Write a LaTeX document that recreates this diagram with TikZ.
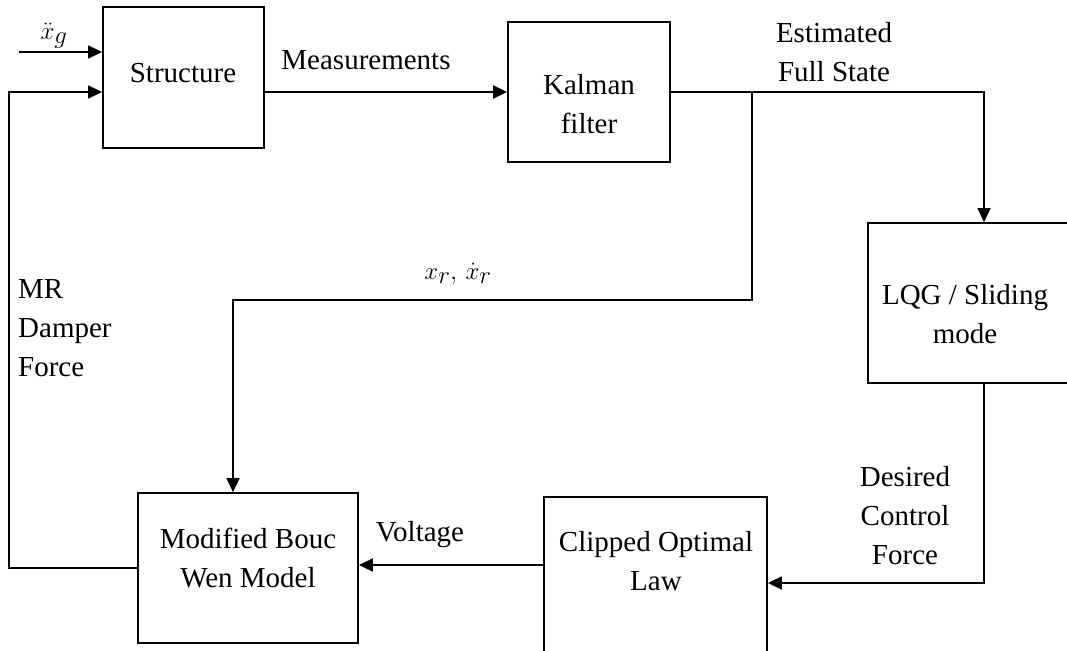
\documentclass[tikz,border=0pt]{standalone}
\usepackage{fontspec}
\setmainfont{Liberation Serif}
\usetikzlibrary{arrows.meta}
\tikzset{
  blk/.style={draw, line width=1.8pt, rectangle, inner sep=0pt},
  lbl/.style={inner sep=0pt, align=center, font=\fontsize{29}{39}\selectfont},
  mlbl/.style={inner sep=0pt, font=\fontsize{34}{40}\selectfont},
  wire/.style={line width=1.8pt},
  arr/.style={wire, -{Triangle[length=14pt,width=13pt]}}
}
\begin{document}
\begin{tikzpicture}[x=1pt, y=-1pt]
\useasboundingbox (0,0) rectangle (1067,650);
\clip (0,0) rectangle (1067,650);

% blocks
\node[blk, minimum width=161pt, minimum height=141pt] (struct) at (183.5,77.5) {};
\node[blk, minimum width=162pt, minimum height=140pt] (kal) at (589,92) {};
\node[blk, minimum width=232pt, minimum height=160pt] (lqg) at (984,303) {};
\node[blk, minimum width=223pt, minimum height=172pt] (clip) at (655.5,583) {};
\node[blk, minimum width=220pt, minimum height=150pt] (mbw) at (248,568) {};

% block texts
\node[lbl] (structtxt) at (183,73) {Structure};
\node[lbl] (kaltxt) at (589,104) {Kalman\\filter};
\node[lbl] (lqgtxt) at (965,314) {LQG / Sliding\\mode};
\node[lbl] (cliptxt) at (656,561) {Clipped Optimal\\Law};
\node[lbl] (mbwtxt) at (248,558) {Modified Bouc\\Wen Model};

% signal labels
\node[mlbl] (xglab) at (54,36) {$\ddot{x}_g$};
\node[lbl] (measlab) at (366,60) {Measurements};
\node[lbl] (estlab) at (834,52) {Estimated\\Full State};
\node[mlbl] (xrlab) at (458,274) {$x_r,\,\dot{x}_r$};
\node[lbl, align=left, anchor=west] (mrlab) at (18,328) {MR\\Damper\\Force};
\node[lbl] (voltlab) at (420,535) {Voltage};
\node[lbl] (deslab) at (905,516) {Desired\\Control\\Force};

% free ends and bends
\coordinate (xgin) at (19,52);
\coordinate (fb) at (9,92);
\coordinate (br) at (752,92);
\coordinate (xr) at (233,300);
\coordinate (vy) at (0,565);

% connectors
\draw[arr] (xgin) -- (xgin -| struct.west);
\draw[arr] (mbw.west) -| (fb) -- (fb -| struct.west);
\draw[arr] (struct.east |- kal.west) -- (kal.west);
\draw[arr] (kal.east) -| (lqg.north);
\draw[arr] (br) |- (xr) -- (xr |- mbw.north);
\draw[arr] (lqg.south) |- (clip.east);
\draw[arr] (clip.west |- vy) -- (mbw.east |- vy);
\end{tikzpicture}
\end{document}
